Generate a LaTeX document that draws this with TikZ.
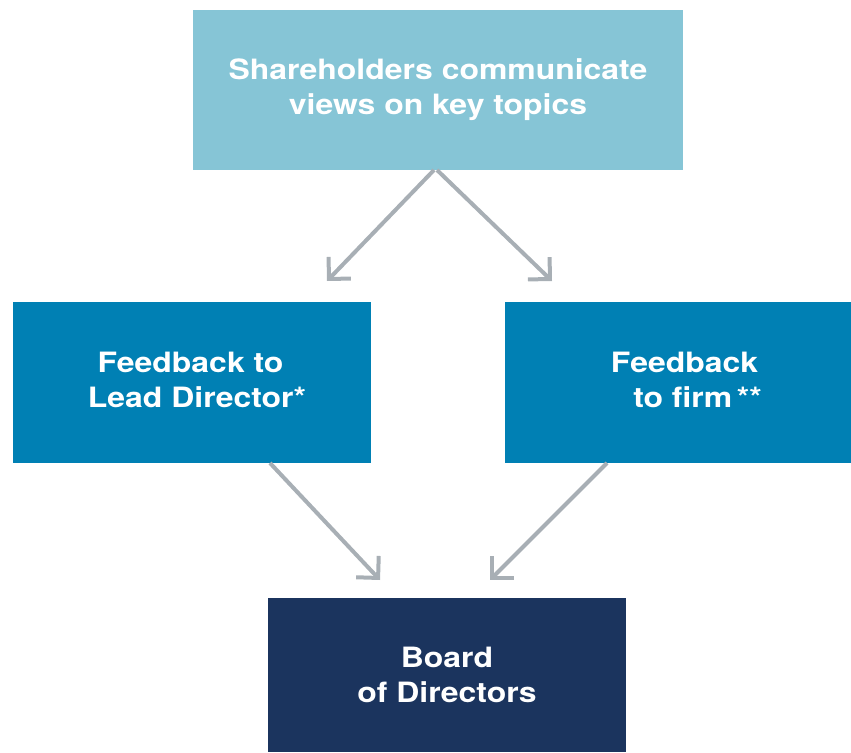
\documentclass[tikz,border=0pt]{standalone}
\usepackage{fontspec}
\setmainfont[FakeStretch=1.14]{TeX Gyre Heros}
\usetikzlibrary{arrows.meta}
\definecolor{topc}{HTML}{86C5D6}
\definecolor{midc}{HTML}{0080B4}
\definecolor{botc}{HTML}{1B345E}
\definecolor{arrc}{HTML}{A8AFB5}
\tikzset{
  box/.style={rectangle, inner sep=0pt, text=white, align=center,
    font=\fontsize{28}{35}\selectfont\bfseries},
  conn/.style={draw=arrc, line width=4pt, -{Straight Barb[angle=90:22pt, line width=4pt]}}
}
\begin{document}
\begin{tikzpicture}[x=1pt,y=1pt]
\useasboundingbox (0,0) rectangle (851,-752);
\node[box, fill=topc, minimum width=490pt, minimum height=160pt] (top) at (438,-90)
  {Shareholders communicate\\views on key topics};
\node[box, fill=midc, minimum width=358pt, minimum height=161pt] (left) at (192,-382.5) {};
\node[box, fill=midc, minimum width=346pt, minimum height=161pt] (right) at (678,-382.5) {};
\node[box, fill=botc, minimum width=358pt, minimum height=154pt] (bot) at (447,-675)
  {Board\\of Directors};
\node[box] (lefttext) at (197,-380) {Feedback to\hspace*{13pt}\\Lead Director*};
\node[box] (righttext) at (684.5,-380) {Feedback\\\hspace*{26pt}to firm\,**};
\coordinate (s1) at (434,-170);
\coordinate (s2) at (437,-170);
\coordinate (t1) at (327,-281);
\coordinate (t2) at (552,-281);
\coordinate (s3) at (270,-463);
\coordinate (s4) at (607,-463);
\coordinate (t3) at (380,-580);
\coordinate (t4) at (490,-580);
\draw[conn] (s1) -- (t1);
\draw[conn] (s2) -- (t2);
\draw[conn] (s3) -- (t3);
\draw[conn] (s4) -- (t4);
\end{tikzpicture}
\end{document}
